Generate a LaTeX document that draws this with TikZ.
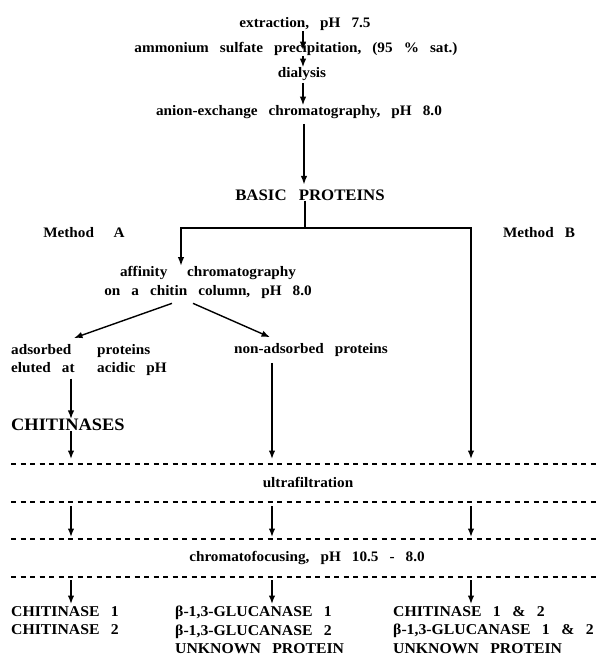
\documentclass[tikz,border=0pt]{standalone}
\usepackage{fontspec}
\setmainfont[FakeStretch=1.05,WordSpace=2.9]{Liberation Serif}
\usetikzlibrary{arrows.meta,calc}
\tikzset{
  stage/.style={inner sep=0pt, font=\bfseries\fontsize{14.5}{19}\selectfont},
  heading/.style={inner sep=0pt, font=\bfseries\fontsize{16}{19}\selectfont},
  yield/.style={inner sep=0pt, anchor=north west, align=left, font=\bfseries\fontsize{15}{18.5}\selectfont},
  flow/.style={->, line width=1.4pt},
  cut/.style={line width=1.2pt, dash pattern=on 5pt off 4.5pt},
}
\begin{document}
\begin{tikzpicture}[x=1pt, y=-1pt, >={Latex[length=8.5pt,width=6.5pt]}]
  \useasboundingbox (0,0) rectangle (613,659);

  % columns
  \coordinate (spine) at (303,0);
  \coordinate (colA) at (71,0);
  \coordinate (colM) at (272,0);
  \coordinate (colB) at (471,0);

  % common steps
  \node[stage] (ext) at (305,24) {extraction, pH 7.5};
  \node[stage] (amm) at (296,49) {ammonium sulfate precipitation, (95 \% sat.)};
  \node[stage] (dia) at (302,74) {dialysis};
  \node[stage] (anion) at (299,112) {anion-exchange chromatography, pH 8.0};
  \node[heading] (basic) at (310,195) {BASIC PROTEINS};

  \draw[flow, shorten >=-8pt] (ext.south -| spine) -- (amm.north -| spine);
  \draw[flow] (amm.south -| spine) -- (dia.north -| spine);
  \draw[flow, shorten <=2pt] (dia.south -| spine) -- (anion.north -| spine);
  \draw[flow, shorten <=5pt, shorten >=5pt] ($(anion.south -| spine)+(1,0)$) -- ($(basic.north -| spine)+(1,0)$);

  % split into the two methods
  \coordinate (fork) at (305,228);
  \coordinate (forkL) at (181,228);
  \draw[line width=1.4pt] (basic.south -| fork) -- (fork);
  \node[stage] (methA) at (84,233) {Method\hspace{0.6em} A};
  \node[stage] (methB) at (539,233) {Method B};

  % Method A
  \node[stage, align=center] (aff) at (208,282) {affinity\hspace{0.6em} chromatography\\on a chitin column, pH 8.0};
  \draw[flow, line join=miter] (fork) -- (forkL) -- (forkL |- aff.north);
  \node[stage, anchor=north west, align=left, font=\bfseries\fontsize{14.5}{18}\selectfont] (ads) at (11,344)
    {\makebox[75pt][l]{adsorbed} proteins\\\makebox[75pt][l]{eluted at} acidic pH};
  \node[stage] (nonads) at (311,350) {non-adsorbed proteins};
  \draw[flow] ($(aff.south)+(-36,5)$) -- ($(ads.north west)+(63,-6)$);
  \draw[flow] ($(aff.south)+(-15,5)$) -- ($(nonads.north)+(-41,-6)$);
  \node[inner sep=0pt, font=\bfseries\fontsize{17.5}{20}\selectfont, anchor=west] (chit) at (11,425) {CHITINASES};
  \draw[flow, shorten <=3pt] (ads.south -| colA) -- (chit.north -| colA);

  % dashed separations
  \foreach \y/\n in {464/d1, 502/d2, 539/d3, 577/d4}
    \draw[cut] (11,\y) coordinate (\n) -- (598,\y);
  \node[stage] (ultra) at (308,482) {ultrafiltration};
  \node[stage] (chromf) at (307,558) {chromatofocusing, pH 10.5 - 8.0};

  % into ultrafiltration
  \draw[flow] (chit.south -| colA) -- ($(colA |- d1)+(0,-5)$);
  \draw[flow, shorten <=6pt] (nonads.south -| colM) -- ($(colM |- d1)+(0,-5)$);
  % Method B
  \draw[flow, line join=miter] (fork) -- (fork -| colB) -- ($(colB |- d1)+(0,-5)$);

  % into chromatofocusing
  \foreach \c in {colA, colM, colB}
    \draw[flow] ($(\c |- d2)+(0,4)$) -- ($(\c |- d3)+(0,-2)$);

  % results
  \node[yield] (res1) at (11,606) {CHITINASE 1\\CHITINASE 2};
  \node[yield] (res2) at (175,606) {β-1,3-GLUCANASE 1\\β-1,3-GLUCANASE 2\\UNKNOWN PROTEIN};
  \node[yield] (res3) at (393,606) {CHITINASE 1 \& 2\\β-1,3-GLUCANASE 1 \& 2\\UNKNOWN PROTEIN};
  \draw[flow] ($(colA |- d4)+(0,3)$) -- ($(res1.north -| colA)+(0,-2)$);
  \draw[flow] ($(colM |- d4)+(0,3)$) -- ($(res2.north -| colM)+(0,-2)$);
  \draw[flow] ($(colB |- d4)+(0,3)$) -- ($(res3.north -| colB)+(0,-2)$);
\end{tikzpicture}
\end{document}
